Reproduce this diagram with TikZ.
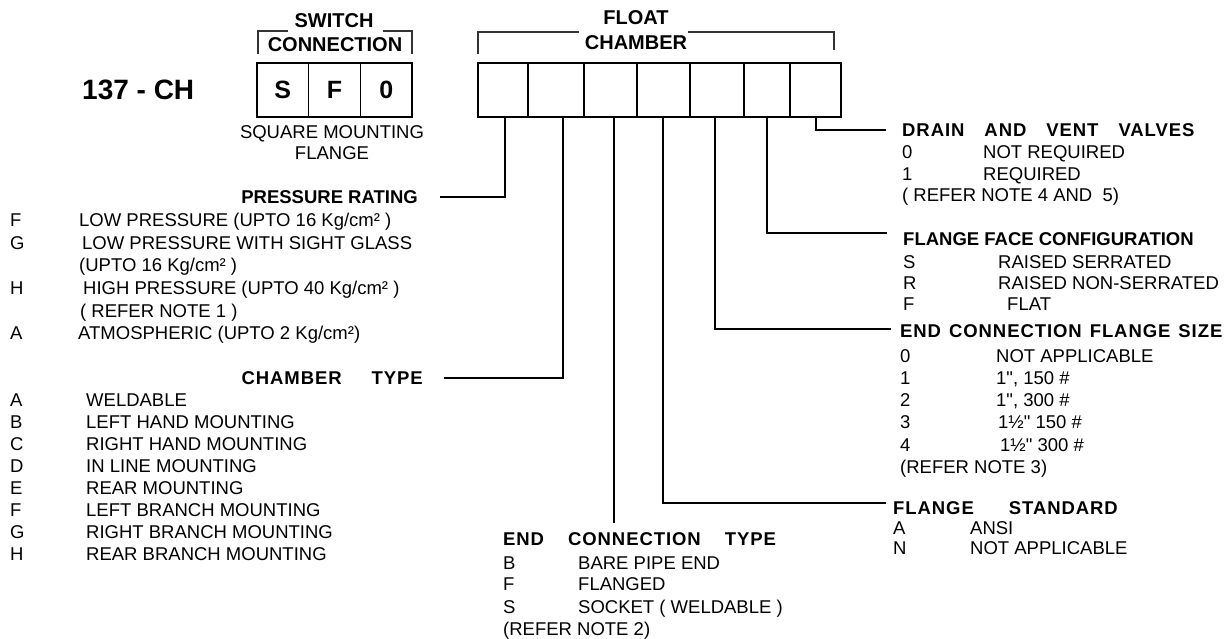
\documentclass[tikz,border=0pt]{standalone}
\usepackage{fontspec}
\setmainfont{Liberation Sans}
\newfontfamily\spb[LetterSpace=5]{Liberation Sans}
\newfontfamily\plainf{Liberation Sans}
\begin{document}
\begin{tikzpicture}[x=1pt,y=-1pt,
  txt/.style={inner sep=0pt, anchor=base west, font=\fontsize{18.5}{22}\selectfont},
  qtxt/.style={inner sep=0pt, anchor=base west, font=\fontsize{18.5}{22}\selectfont\plainf},
  ttl/.style={inner sep=0pt, anchor=base west, font=\fontsize{18.5}{22}\selectfont\bfseries},
  sttl/.style={inner sep=0pt, anchor=base west, font=\fontsize{18.5}{22}\selectfont\spb\bfseries},
  hd/.style={inner sep=0pt, anchor=base, font=\fontsize{20}{22}\selectfont\bfseries},
  cell/.style={draw, line width=1.4pt, minimum height=54pt, inner sep=0pt, anchor=center, font=\fontsize{25}{27}\selectfont\bfseries},
  conn/.style={line width=1.2pt},
  brk/.style={line width=1.2pt, black!80},
]
\useasboundingbox (0,0) rectangle (1226,639);

% code
\node[inner sep=0pt, anchor=base west, font=\fontsize{28}{30}\selectfont\bfseries] (code) at (82,100) {137 - CH};

% switch connection
\node[cell, minimum width=51.67pt] (s1) at (282.8,90) {S};
\node[cell, minimum width=51.67pt] (s2) at (334.5,90) {F};
\node[cell, minimum width=51.67pt] (s3) at (386.2,90) {0};
\node[hd] (sw1) at (334,28) {SWITCH};
\node[hd] (sw2) at (335,52) {CONNECTION};
\draw[brk] (258,54) |- (288,31);
\draw[brk] (383,31) -| (412,54);
\node[txt, anchor=base] (sq1) at (332,139) {SQUARE MOUNTING};
\node[txt, anchor=base] (sq2) at (332,160) {FLANGE};

% float chamber
\node[cell, minimum width=50pt] (f1) at (503,90) {};
\node[cell, minimum width=56pt] (f2) at (556,90) {};
\node[cell, minimum width=53pt] (f3) at (610.5,90) {};
\node[cell, minimum width=53pt] (f4) at (663.5,90) {};
\node[cell, minimum width=54pt] (f5) at (717,90) {};
\node[cell, minimum width=46pt] (f6) at (767,90) {};
\node[cell, minimum width=51pt] (f7) at (815.5,90) {};
\node[hd] (fc1) at (636,25) {FLOAT};
\node[hd] (fc2) at (636,50) {CHAMBER};
\draw[brk] (478,54) |- (579,32);
\draw[brk] (688,32) -| (834,50);

% connectors
\coordinate (e1) at (440,197);
\coordinate (e2) at (444,378);
\coordinate (e3) at (614,523);
\coordinate (e4) at (886,503);
\coordinate (e5) at (891,329);
\coordinate (e6) at (887,233);
\coordinate (e7) at (886,130);
\draw[conn] ([xshift=2pt]f1.south) |- (e1);
\draw[conn] ([xshift=7pt]f2.south) |- (e2);
\draw[conn] ([xshift=3.5pt]f3.south) -- (e3);
\draw[conn] ([xshift=-0.5pt]f4.south) |- (e4);
\draw[conn] ([xshift=-2pt]f5.south) |- (e5);
\draw[conn] (f6.south) |- (e6);
\draw[conn] ([xshift=0.5pt]f7.south) |- (e7);

% drain and vent valves
\node[sttl] (dv0) at (902,137) {DRAIN\hspace{20pt}AND\hspace{20pt}VENT\hspace{20pt}VALVES};
\node[txt] (dv1l) at (902,159) {0};
\node[txt] (dv1t) at (983,159) {NOT REQUIRED};
\node[txt] (dv2l) at (902,181) {1};
\node[txt] (dv2t) at (983,181) {REQUIRED};
\node[txt] (dv3) at (902,202) {( REFER NOTE 4 AND\ \ 5)};

% flange face configuration
\node[ttl] (ff0) at (903,245) {FLANGE FACE CONFIGURATION};
\node[txt] (ff1l) at (903,268) {S};
\node[txt] (ff1t) at (998,268) {RAISED SERRATED};
\node[txt] (ff2l) at (903,289) {R};
\node[txt] (ff2t) at (998,289) {RAISED NON-SERRATED};
\node[txt] (ff3l) at (903,310) {F};
\node[txt] (ff3t) at (1007,310) {FLAT};

% end connection flange size
\node[sttl] (fz0) at (900,337) {END\hspace{8pt}CONNECTION\hspace{8pt}FLANGE\hspace{8pt}SIZE};
\node[txt] (fz1l) at (900,362) {0};
\node[txt] (fz1t) at (996,362) {NOT APPLICABLE};
\node[txt] (fz2l) at (900,384) {1};
\node[qtxt] (fz2t) at (996,384) {1", 150 \#};
\node[txt] (fz3l) at (900,406) {2};
\node[qtxt] (fz3t) at (996,406) {1", 300 \#};
\node[txt] (fz4l) at (900,428) {3};
\node[qtxt] (fz4t) at (998,428) {1½" 150 \#};
\node[txt] (fz5l) at (900,451) {4};
\node[qtxt] (fz5t) at (1000,451) {1½" 300 \#};
\node[txt] (fz6) at (900,473) {(REFER NOTE 3)};

% flange standard
\node[sttl] (fs0) at (893,514) {FLANGE\hspace{35pt}STANDARD};
\node[txt] (fs1l) at (893,534) {A};
\node[txt] (fs1t) at (970,534) {ANSI};
\node[txt] (fs2l) at (893,554) {N};
\node[txt] (fs2t) at (970,554) {NOT APPLICABLE};

% pressure rating
\node[ttl, anchor=base east] (pr0) at (418,204) {PRESSURE RATING};
\node[txt] (pr1l) at (10,226) {F};
\node[txt] (pr1t) at (79,226) {LOW PRESSURE (UPTO 16 Kg/cm² )};
\node[txt] (pr2l) at (10,249) {G};
\node[txt] (pr2t) at (82,249) {LOW PRESSURE WITH SIGHT GLASS};
\node[txt] (pr2u) at (79,271) {(UPTO 16 Kg/cm² )};
\node[txt] (pr3l) at (10,294) {H};
\node[txt] (pr3t) at (83,294) {HIGH PRESSURE (UPTO 40 Kg/cm² )};
\node[txt] (pr3u) at (80,317) {( REFER NOTE 1 )};
\node[txt] (pr4l) at (10,339) {A};
\node[txt] (pr4t) at (78,339) {ATMOSPHERIC (UPTO 2 Kg/cm²)};

% chamber type
\node[sttl, anchor=base east] (ct0) at (423,384) {CHAMBER\hspace{30pt}TYPE};
\foreach \l/\t [count=\i] in {A/WELDABLE, B/LEFT HAND MOUNTING, C/RIGHT HAND MOUNTING, D/IN LINE MOUNTING, E/REAR MOUNTING, F/LEFT BRANCH MOUNTING, G/RIGHT BRANCH MOUNTING, H/REAR BRANCH MOUNTING}{
  \node[txt] (ctl\i) at (10,{384+22*\i}) {\l};
  \node[txt] (ctt\i) at (86,{384+22*\i}) {\t};
}

% end connection type
\node[sttl] (ec0) at (503,545) {END\hspace{24pt}CONNECTION\hspace{24pt}TYPE};
\node[txt] (ec1l) at (503,569) {B};
\node[txt] (ec1t) at (578,569) {BARE PIPE END};
\node[txt] (ec2l) at (503,590) {F};
\node[txt] (ec2t) at (578,590) {FLANGED};
\node[txt] (ec3l) at (503,613) {S};
\node[txt] (ec3t) at (578,613) {SOCKET ( WELDABLE )};
\node[txt] (ec4) at (503,635) {(REFER NOTE 2)};
\end{tikzpicture}
\end{document}
